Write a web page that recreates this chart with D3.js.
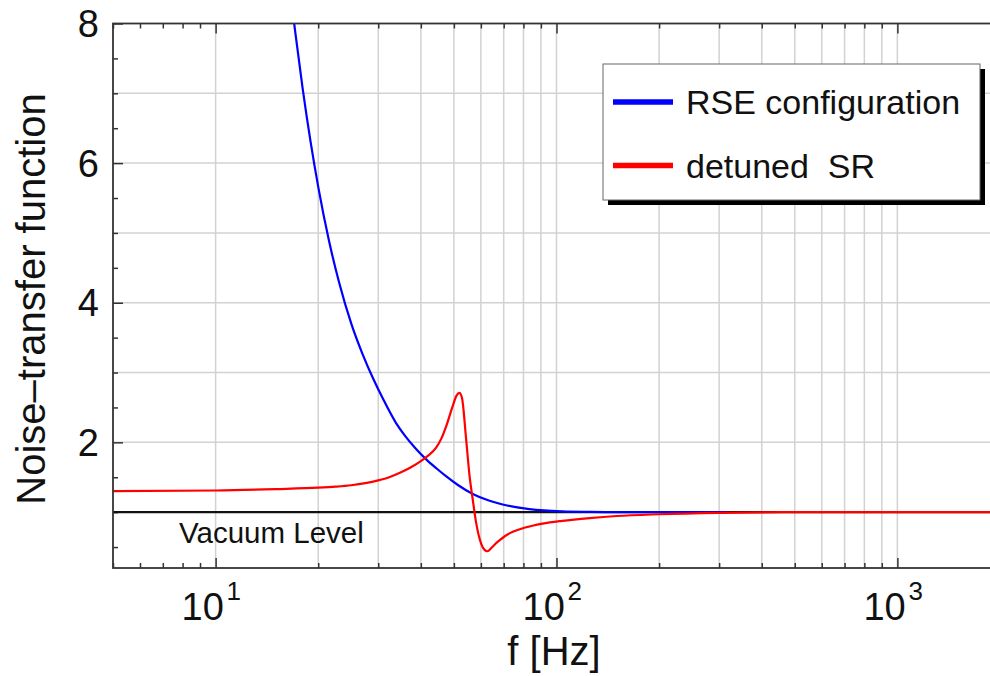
<!DOCTYPE html>
<html>
<head>
<meta charset="utf-8">
<script src="https://cdn.jsdelivr.net/npm/d3@7"></script>
<style>
  html, body { margin: 0; padding: 0; background: #fff; }
  svg { display: block; }
  text { font-family: "Liberation Sans", Arial, Helvetica, sans-serif; fill: #111; }
</style>
</head>
<body>
<svg id="chart" width="990" height="676"></svg>
<script>
// Noise-transfer function vs. frequency for two interferometer configurations
const rseFreq  = [16.6, 17.0, 18.0, 19.0, 20.0, 21.5, 23.0, 25.0, 27.0, 29.0, 31.0, 33.8, 36.0, 38.5, 41.4, 44.5, 47.4, 51.5, 56.8, 63, 69.5, 76, 83.3, 92, 104, 125, 150, 200, 316];
const rseValue = [8.4, 8.0, 7.07, 6.3, 5.66, 4.89, 4.3, 3.7, 3.26, 2.91, 2.62, 2.28, 2.09, 1.92, 1.76, 1.625, 1.515, 1.385, 1.26, 1.17, 1.11, 1.072, 1.044, 1.025, 1.012, 1.004, 1.0, 1.0, 1.0];

const srFreq  = [5, 10, 15, 20, 22.5, 25, 27.5, 30, 32.3, 34.6, 37.2, 40, 42, 44.3, 46, 47.4, 49.6, 50.9, 51.9, 52.8, 54.3, 55.5, 56.8, 58.1, 60.1, 61.5, 62.7, 64.5, 66, 68, 70.5, 73, 78, 85, 91, 104, 125, 150, 200, 300, 500, 1000, 2000];
const srValue = [1.30, 1.31, 1.33, 1.35, 1.365, 1.385, 1.415, 1.455, 1.50, 1.56, 1.635, 1.73, 1.81, 1.92, 2.06, 2.22, 2.52, 2.67, 2.71, 2.64, 2.05, 1.55, 1.18, 0.85, 0.55, 0.46, 0.44, 0.49, 0.54, 0.595, 0.655, 0.70, 0.755, 0.805, 0.835, 0.875, 0.915, 0.945, 0.97, 0.99, 1.0, 1.0, 1.0];

const vacuumLevel = 1;
const yTickValues = [2, 4, 6, 8];
const xDecades = [10, 100, 1000];
const seriesNames = ["RSE configuration", "detuned  SR"];
const seriesColors = ["#0000ff", "#ff0000"];

const svg = d3.select("#chart");
const plotLeft = 113, plotRight = 1000, plotTop = 23.5, plotBottom = 568;

const x = d3.scaleLog().domain([5, 2000]).range([plotLeft, plotRight]);
const y = d3.scaleLinear().domain([0.2, 8]).range([plotBottom, plotTop]);

svg.append("rect").attr("width", 990).attr("height", 676).attr("fill", "#fff");

svg.append("defs").append("clipPath").attr("id", "plot-clip")
  .append("rect").attr("x", plotLeft).attr("y", plotTop)
  .attr("width", plotRight - plotLeft).attr("height", plotBottom - plotTop);

// grid: every integer on y, every 1..9 multiple from 10 Hz upward on x
const yGrid = d3.range(1, 8);
const xGrid = [];
[10, 100, 1000].forEach(d => { for (let k = 1; k <= 9; k++) xGrid.push(d * k); });
const grid = svg.append("g").attr("stroke", "#d2d2d2").attr("stroke-width", 1.5);
grid.selectAll("line.h").data(yGrid).join("line").attr("class", "h")
  .attr("x1", plotLeft).attr("x2", plotRight).attr("y1", d => y(d)).attr("y2", d => y(d));
grid.selectAll("line.v").data(xGrid.filter(d => d <= 2000)).join("line").attr("class", "v")
  .attr("x1", d => x(d)).attr("x2", d => x(d)).attr("y1", plotTop).attr("y2", plotBottom);

// axis ticks via d3 axes (ticks pointing inward)
const xMinor = [];
[1, 10, 100, 1000].forEach(d => { for (let k = 2; k <= 9; k++) { const v = d * k; if (v >= 5 && v <= 2000) xMinor.push(v); } });
const yMinor = d3.range(0.5, 8, 0.5).filter(v => !yTickValues.includes(v));

const axisStyle = g => {
  g.select(".domain").remove();
  g.selectAll(".tick line").attr("stroke", "#333").attr("stroke-width", 1.5);
  g.selectAll(".tick text").remove();
};
svg.append("g").attr("transform", `translate(0,${plotBottom})`)
  .call(d3.axisTop(x).tickValues(xMinor).tickSize(5)).call(axisStyle);
svg.append("g").attr("transform", `translate(0,${plotBottom})`)
  .call(d3.axisTop(x).tickValues(xDecades).tickSize(10)).call(axisStyle);
svg.append("g").attr("transform", `translate(0,${plotTop})`)
  .call(d3.axisBottom(x).tickValues(xMinor).tickSize(5)).call(axisStyle);
svg.append("g").attr("transform", `translate(0,${plotTop})`)
  .call(d3.axisBottom(x).tickValues(xDecades).tickSize(10)).call(axisStyle);
svg.append("g").attr("transform", `translate(${plotLeft},0)`)
  .call(d3.axisRight(y).tickValues(yMinor).tickSize(5)).call(axisStyle);
svg.append("g").attr("transform", `translate(${plotLeft},0)`)
  .call(d3.axisRight(y).tickValues(yTickValues).tickSize(10)).call(axisStyle);
svg.append("g").attr("transform", `translate(${plotRight},0)`)
  .call(d3.axisLeft(y).tickValues(yTickValues).tickSize(10)).call(axisStyle);

// vacuum level reference
svg.append("line")
  .attr("x1", plotLeft).attr("x2", plotRight)
  .attr("y1", y(vacuumLevel)).attr("y2", y(vacuumLevel))
  .attr("stroke", "#111").attr("stroke-width", 2.2);
svg.append("text").attr("x", 179).attr("y", 543)
  .attr("font-size", 29.5).text("Vacuum Level");

// curves
const line = d3.line().x(d => x(d[0])).y(d => y(d[1])).curve(d3.curveMonotoneX);
const curves = svg.append("g").attr("clip-path", "url(#plot-clip)").attr("fill", "none");
curves.append("path")
  .attr("d", line(rseFreq.map((f, i) => [f, rseValue[i]])))
  .attr("stroke", seriesColors[0]).attr("stroke-width", 2.2);
curves.append("path")
  .attr("d", line(srFreq.map((f, i) => [f, srValue[i]])))
  .attr("stroke", seriesColors[1]).attr("stroke-width", 2.2);

// frame
svg.append("rect").attr("x", plotLeft).attr("y", plotTop)
  .attr("width", plotRight - plotLeft).attr("height", plotBottom - plotTop)
  .attr("fill", "none").attr("stroke", "#333").attr("stroke-width", 1.8);

// y tick labels
svg.append("g").selectAll("text").data(yTickValues).join("text")
  .attr("x", 99).attr("y", d => y(d)).attr("dy", "0.36em")
  .attr("text-anchor", "end").attr("font-size", 38).text(d => d);

// x tick labels as 10^n
const xl = svg.append("g").selectAll("g").data(xDecades).join("g")
  .attr("transform", d => `translate(${x(d)},620)`);
xl.append("text").attr("x", -34).attr("font-size", 38).text("10");
xl.append("text").attr("x", 11).attr("y", -20).attr("font-size", 26)
  .text(d => Math.round(Math.log10(d)));

// axis titles
svg.append("text").attr("x", 554).attr("y", 665).attr("text-anchor", "middle")
  .attr("font-size", 40).text("f [Hz]");
svg.append("text").attr("transform", "translate(45,299) rotate(-90)")
  .attr("text-anchor", "middle").attr("font-size", 40).text("Noise\u2013transfer function");

// legend with drop shadow
const lg = svg.append("g");
lg.append("rect").attr("x", 608).attr("y", 69).attr("width", 377).attr("height", 136).attr("fill", "#000");
lg.append("rect").attr("x", 603).attr("y", 64).attr("width", 377).attr("height", 136)
  .attr("fill", "#fff").attr("stroke", "#666").attr("stroke-width", 1);
const rows = lg.selectAll("g.row").data(seriesNames).join("g").attr("class", "row")
  .attr("transform", (d, i) => `translate(0,${i * 63.5})`);
rows.append("line").attr("x1", 613).attr("x2", 673).attr("y1", 102).attr("y2", 102)
  .attr("stroke", (d, i) => seriesColors[i]).attr("stroke-width", 5.5);
rows.append("text").attr("x", 686).attr("y", 114).attr("font-size", 34)
  .attr("xml:space", "preserve").text(d => d);
</script>
</body>
</html>
